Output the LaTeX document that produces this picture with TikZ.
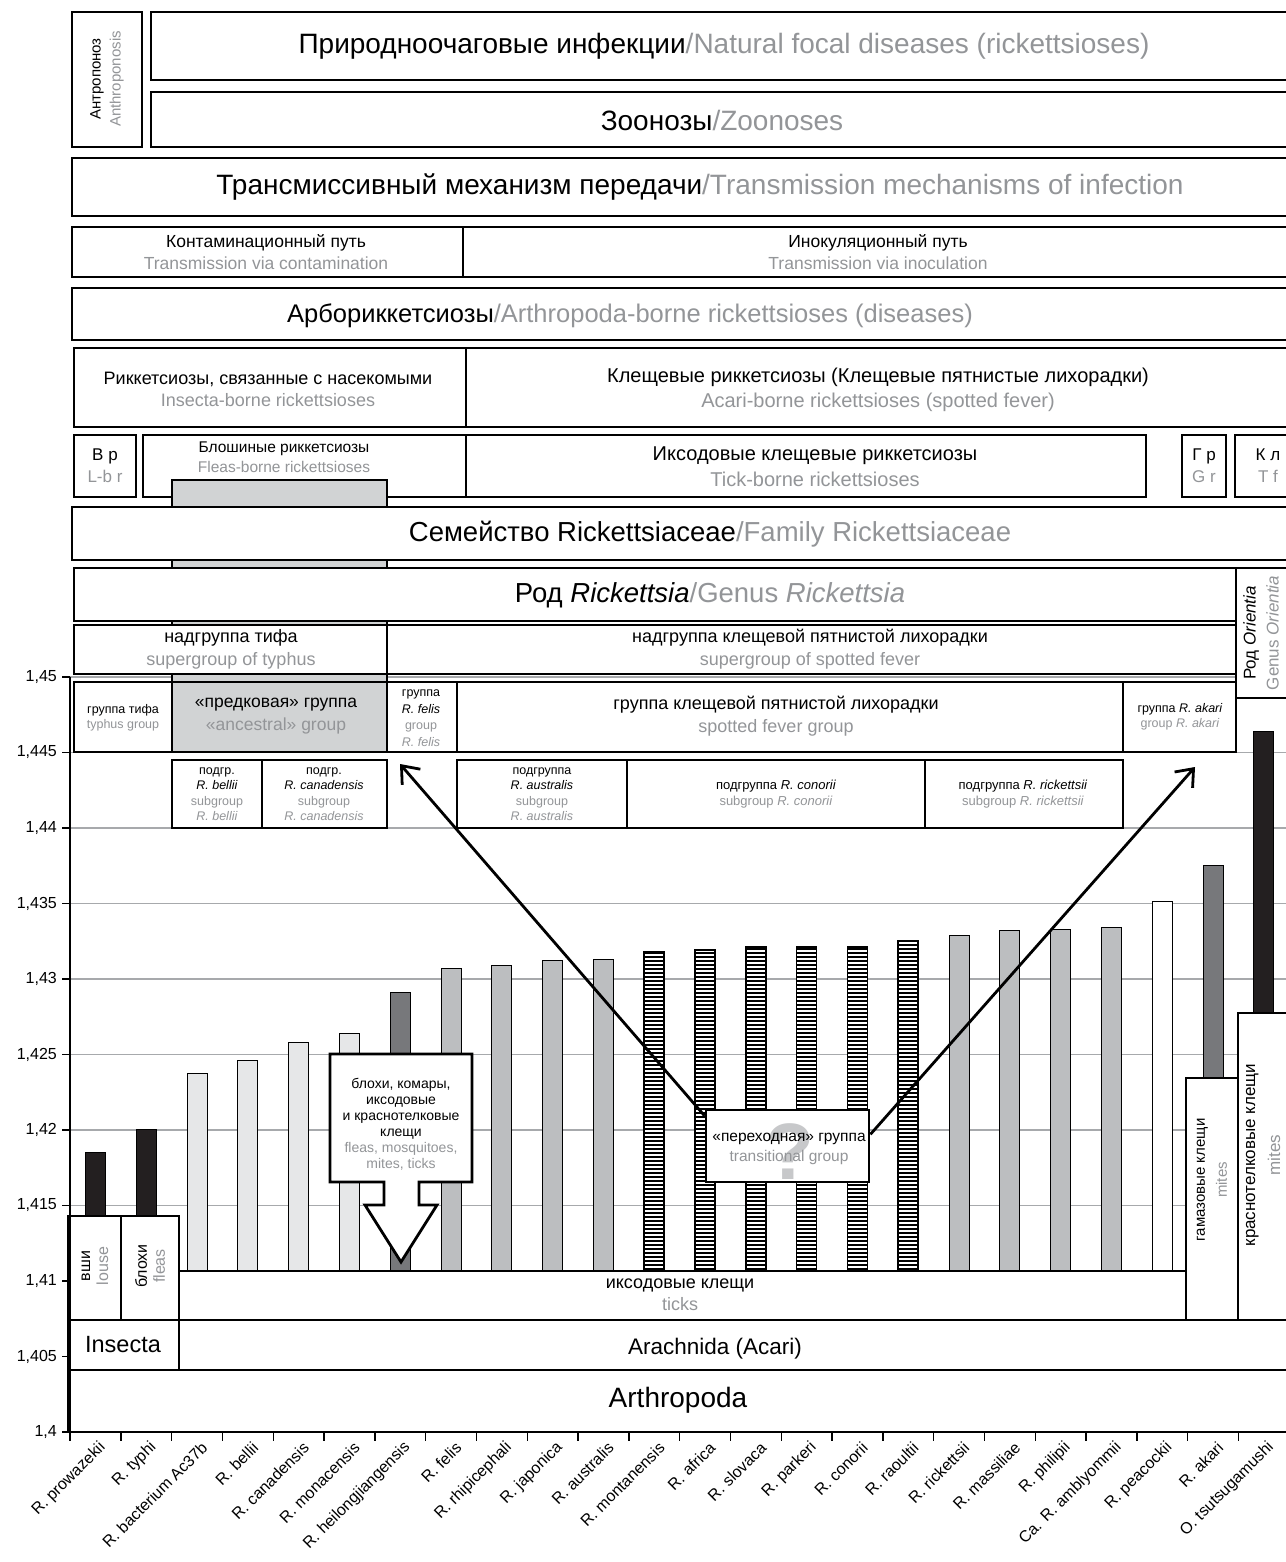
\documentclass[tikz,border=0pt]{standalone}
\usepackage{fontspec}
\setmainfont{Liberation Sans}
\usetikzlibrary{arrows.meta}

\definecolor{engl}{HTML}{939598}
\definecolor{barblack}{HTML}{231F20}
\definecolor{bardark}{HTML}{77787B}
\definecolor{barmid}{HTML}{BCBEC0}
\definecolor{barlight}{HTML}{E6E7E8}
\definecolor{ancgray}{HTML}{D1D3D4}
\definecolor{gridgray}{HTML}{A7A9AC}
\definecolor{qgray}{HTML}{C7C8CA}

\newcommand{\en}[1]{\textcolor{engl}{#1}}
\newcommand{\fsz}[2]{\fontsize{#1}{#2}\selectfont}

\tikzset{
  cell/.style={draw=black, line width=2.8pt, fill=white},
  lbl/.style={align=center, inner sep=0pt},
  bar/.style={draw=black, line width=1pt},
  hatchbar/.style={draw=black, line width=1.6pt, fill=white},
  gridline/.style={gridgray, line width=1.4pt},
  xlab/.style={anchor=east, rotate=45, inner sep=0pt, font=\fsz{16}{18}},
  ylab/.style={anchor=east, inner sep=0pt, font=\fsz{16}{18}},
  pointer/.style={line width=2.8pt, -{Straight Barb[length=15pt,width=24pt]}},
}

\begin{document}
\begin{tikzpicture}[x=1pt, y=-1pt]
\useasboundingbox (0,0) rectangle (1285,1562);

% Grid
      \foreach \k in {1,...,10}
        \draw[gridline] (70,{1432-75.5*\k}) -- (1300,{1432-75.5*\k});

% Transmission hierarchy
      \draw[cell] (72,12) rectangle (142,147);
      \node[lbl, rotate=90, font=\fsz{15}{20}] (anthro) at (107,79) {Антропоноз\\\en{Anthroponosis}};
      \draw[cell] (151,12) rectangle (1325,80);
      \node[lbl, font=\fsz{28}{32}] (natfoc) at (724,46) {Природноочаговые инфекции\en{/Natural focal diseases (rickettsioses)}};
      \draw[cell] (151,92) rectangle (1325,147);
      \node[lbl, font=\fsz{28}{32}] (zoon) at (722,120) {Зоонозы\en{/Zoonoses}};
      \draw[cell] (72,158) rectangle (1325,216);
      \node[lbl, font=\fsz{28}{32}] (transm) at (700,187) {Трансмиссивный механизм передачи\en{/Transmission mechanisms of infection}};
      \draw[cell] (72,227) rectangle (463,277);
      \draw[cell] (463,227) rectangle (1325,277);
      \node[lbl, font=\fsz{17.5}{22}] (contam) at (266,252) {Контаминационный путь\\\en{Transmission via contamination}};
      \node[lbl, font=\fsz{17.5}{22}] (inoc) at (878,252) {Инокуляционный путь\\\en{Transmission via inoculation}};
      \draw[cell] (72,288) rectangle (1325,340);
      \node[lbl, font=\fsz{25.5}{30}] (arbo) at (630,316) {Арбориккетсиозы\en{/Arthropoda-borne rickettsioses (diseases)}};
      \draw[cell] (74,348) rectangle (466,427);
      \draw[cell] (466,348) rectangle (1325,427);
      \node[lbl, font=\fsz{18}{22}] (insborne) at (268,389) {Риккетсиозы, связанные с насекомыми\\\en{Insecta-borne rickettsioses}};
      \node[lbl, font=\fsz{20}{25}] (acaborne) at (878,390) {Клещевые риккетсиозы (Клещевые пятнистые лихорадки)\\\en{Acari-borne rickettsioses (spotted fever)}};
      \draw[cell] (74,435) rectangle (136,497);
      \draw[cell] (143,435) rectangle (466,497);
      \draw[cell] (466,435) rectangle (1146,497);
      \draw[cell] (1182,435) rectangle (1226,497);
      \draw[cell] (1235,435) rectangle (1325,497);
      \node[lbl, font=\fsz{17}{22}] (lbr) at (105,466) {В р\\\en{L-b r}};
      \node[lbl, font=\fsz{15.5}{20}] (fleasb) at (284,457) {Блошиные риккетсиозы\\\en{Fleas-borne rickettsioses}};
      \node[lbl, font=\fsz{20}{26}] (tickb) at (815,467) {Иксодовые клещевые риккетсиозы\\\en{Tick-borne rickettsioses}};
      \node[lbl, font=\fsz{17}{22}] (gr) at (1204,466) {Г р\\\en{G r}};
      \node[lbl, font=\fsz{17}{22}] (tf) at (1268,466) {К л\\\en{T f}};

% Ancestral column
      \draw[cell, fill=ancgray] (172,480) rectangle (387,752);

% Taxonomy
      \draw[cell] (72,507) rectangle (1325,560);
      \node[lbl, font=\fsz{27.5}{32}] (family) at (710,534) {Семейство Rickettsiaceae\en{/Family Rickettsiaceae}};
      \draw[cell] (74,568) rectangle (1236,621);
      \node[lbl, font=\fsz{27.5}{32}] (genus) at (710,595) {Род \textit{Rickettsia}\en{/Genus \textit{Rickettsia}}};
      \draw[cell] (1236,568) rectangle (1325,698);
      \node[lbl, rotate=90, font=\fsz{17}{23}] (orient) at (1261,633) {Род \textit{Orientia}\\\en{Genus \textit{Orientia}}};
      \draw[cell] (74,625) rectangle (387,674);
      \draw[cell] (387,625) rectangle (1236,674);
      \node[lbl, font=\fsz{18}{23}] (sgtyph) at (231,649) {надгруппа тифа\\\en{supergroup of typhus}};
      \node[lbl, font=\fsz{18}{23}] (sgspot) at (810,649) {надгруппа клещевой пятнистой лихорадки\\\en{supergroup of spotted fever}};
      \draw[cell] (74,682) rectangle (172,752);
      \draw[cell, fill=ancgray] (172,682) rectangle (387,752);
      \draw[cell] (387,682) rectangle (457,752);
      \draw[cell] (457,682) rectangle (1123,752);
      \draw[cell] (1123,682) rectangle (1236,752);
      \node[lbl, font=\fsz{12.5}{15}] (typhgr) at (123,718) {группа тифа\\\en{typhus group}};
      \node[lbl, font=\fsz{17.5}{23}] (ancgr) at (276,716) {«предковая» группа\\\en{«ancestral» group}};
      \node[lbl, font=\fsz{12.5}{16.5}] (felisgr) at (421,718) {группа\\\textit{R. felis}\\\en{group}\\\en{\textit{R. felis}}};
      \node[lbl, font=\fsz{18}{23}] (spotgr) at (776,716) {группа клещевой пятнистой лихорадки\\\en{spotted fever group}};
      \node[lbl, font=\fsz{12.5}{15}] (akarigr) at (1180,717) {группа \textit{R. akari}\\\en{group \textit{R. akari}}};
      \draw[cell] (172,760) rectangle (262,828);
      \draw[cell] (262,760) rectangle (387,828);
      \draw[cell] (457,760) rectangle (627,828);
      \draw[cell] (627,760) rectangle (925,828);
      \draw[cell] (925,760) rectangle (1123,828);
      \node[lbl, font=\fsz{12.5}{15.5}] (sbbel) at (217,794) {подгр.\\\textit{R. bellii}\\\en{subgroup}\\\en{\textit{R. bellii}}};
      \node[lbl, font=\fsz{12.5}{15.5}] (sbcan) at (324,794) {подгр.\\\textit{R. canadensis}\\\en{subgroup}\\\en{\textit{R. canadensis}}};
      \node[lbl, font=\fsz{12.5}{15.5}] (sbaus) at (542,794) {подгруппа\\\textit{R. australis}\\\en{subgroup}\\\en{\textit{R. australis}}};
      \node[lbl, font=\fsz{13}{16}] (sbcon) at (776,794) {подгруппа \textit{R. conorii}\\\en{subgroup \textit{R. conorii}}};
      \node[lbl, font=\fsz{13}{16}] (sbric) at (1023,794) {подгруппа \textit{R. rickettsii}\\\en{subgroup \textit{R. rickettsii}}};

% Bars
      \foreach \i/\v/\c in {0/1.4185/barblack, 1/1.42/barblack, 2/1.4237/barlight, 3/1.4246/barlight,
          4/1.4258/barlight, 5/1.4264/barlight, 6/1.4291/bardark, 7/1.4307/barmid, 8/1.4309/barmid,
          9/1.4312/barmid, 10/1.4313/barmid, 17/1.4329/barmid, 18/1.4332/barmid, 19/1.4333/barmid,
          20/1.4334/barmid, 21/1.4351/white, 22/1.4375/bardark, 23/1.4464/barblack}
        \draw[bar, fill=\c] ({70+50.8*\i+15.4},1300) rectangle ++(20,{-(1300-1432+(\v-1.4)*15100)});
      \foreach \i/\v in {11/1.4318, 12/1.4319, 13/1.4321, 14/1.4321, 15/1.4321, 16/1.4325}{
        \pgfmathsetmacro{\bartop}{1432-(\v-1.4)*15100}
        \draw[hatchbar] ({70+50.8*\i+15.4},1300) rectangle ({70+50.8*\i+35.4},\bartop);
        \foreach \yy in {1297,1293,...,\bartop}
          \draw[line width=1.4pt] ({70+50.8*\i+15.4},\yy) -- ++(20,0);
      }

% Vectors
      \draw[cell] (68,1216) rectangle (121,1320);
      \draw[cell] (121,1216) rectangle (179,1320);
      \draw[cell] (179,1271) rectangle (1186,1320);
      \draw[cell] (1186,1078) rectangle (1238,1320);
      \draw[cell] (1238,1013) rectangle (1325,1320);
      \draw[cell] (68,1320) rectangle (179,1370);
      \draw[cell] (179,1320) rectangle (1325,1370);
      \draw[cell] (68,1370) rectangle (1325,1432);
      \node[lbl, rotate=90, font=\fsz{16}{18}] (louse) at (95,1266) {вши\\\en{louse}};
      \node[lbl, rotate=90, font=\fsz{16}{18}] (fleas) at (150,1266) {блохи\\\en{fleas}};
      \node[lbl, font=\fsz{18}{22}] (ticks) at (680,1295) {иксодовые клещи\\\en{ticks}};
      \node[lbl, rotate=90, font=\fsz{15}{22}] (gamas) at (1212,1180) {гамазовые клещи\\\en{mites}};
      \node[lbl, rotate=90, font=\fsz{17}{25}] (chigger) at (1263,1155) {краснотелковые клещи\\\en{mites}};
      \node[lbl, font=\fsz{23.5}{26}] (insecta) at (123,1345) {Insecta};
      \node[lbl, font=\fsz{22.5}{26}] (arachn) at (715,1349) {Arachnida (Acari)};
      \node[lbl, font=\fsz{28}{32}] (arthrop) at (678,1400) {Arthropoda};

% Callout
      \draw[cell] (330,1054) -- (472,1054) -- (472,1182) -- (419,1182) -- (419,1205) -- (437,1205)
        -- (401,1262) -- (365,1205) -- (384,1205) -- (384,1182) -- (330,1182) -- cycle;
      \node[lbl, font=\fsz{14}{16}] (callout) at (401,1124) {блохи, комары,\\иксодовые\\и краснотелковые\\клещи\\\en{fleas, mosquitoes,}\\\en{mites, ticks}};

% Transitional group
      \node[cell, minimum width=163, minimum height=72, inner sep=0pt] (trans) at (787.5,1146) {};
      \node[lbl, text=qgray, font=\fsz{80}{80}\bfseries] (qmark) at (790,1152) {?};
      \node[lbl, font=\fsz{15.5}{20}] (transl) at (789,1149) {«переходная» группа\\\en{transitional group}};

% Axes
      \draw[line width=1.6pt] (70,677) -- (70,1432) -- (1300,1432);
      \foreach \k/\l in {0/{1,4}, 1/{1,405}, 2/{1,41}, 3/{1,415}, 4/{1,42}, 5/{1,425}, 6/{1,43}, 7/{1,435}, 8/{1,44}, 9/{1,445}, 10/{1,45}}{
        \draw[line width=1.4pt] (62,{1432-75.5*\k}) -- (70,{1432-75.5*\k});
        \node[ylab] (y\k) at (57,{1432-75.5*\k}) {\l};
      }
      \foreach \i in {0,...,24}
        \draw[line width=1.4pt] ({70+50.8*\i},1432) -- ++(0,9);
      \foreach \i/\n in {0/R. prowazekii, 1/R. typhi, 2/R. bacterium Ac37b, 3/R. bellii, 4/R. canadensis,
          5/R. monacensis, 6/R. heilongjiangensis, 7/R. felis, 8/R. rhipicephali, 9/R. japonica,
          10/R. australis, 11/R. montanensis, 12/R. africa, 13/R. slovaca, 14/R. parkeri, 15/R. conorii,
          16/R. raoultii, 17/R. rickettsii, 18/R. massiliae, 19/R. philipii, 20/Ca. R. amblyommii,
          21/R. peacockii, 22/R. akari, 23/O. tsutsugamushi}
        \node[xlab] (x\i) at ({70+50.8*\i+33},1445) {\n};

% Pointers
      \coordinate (felistip) at (400,764);
      \coordinate (akaritip) at (1195,767);
      \draw[pointer] (trans.160) -- (felistip);
      \draw[pointer] (trans.8) -- (akaritip);

\end{tikzpicture}
\end{document}
